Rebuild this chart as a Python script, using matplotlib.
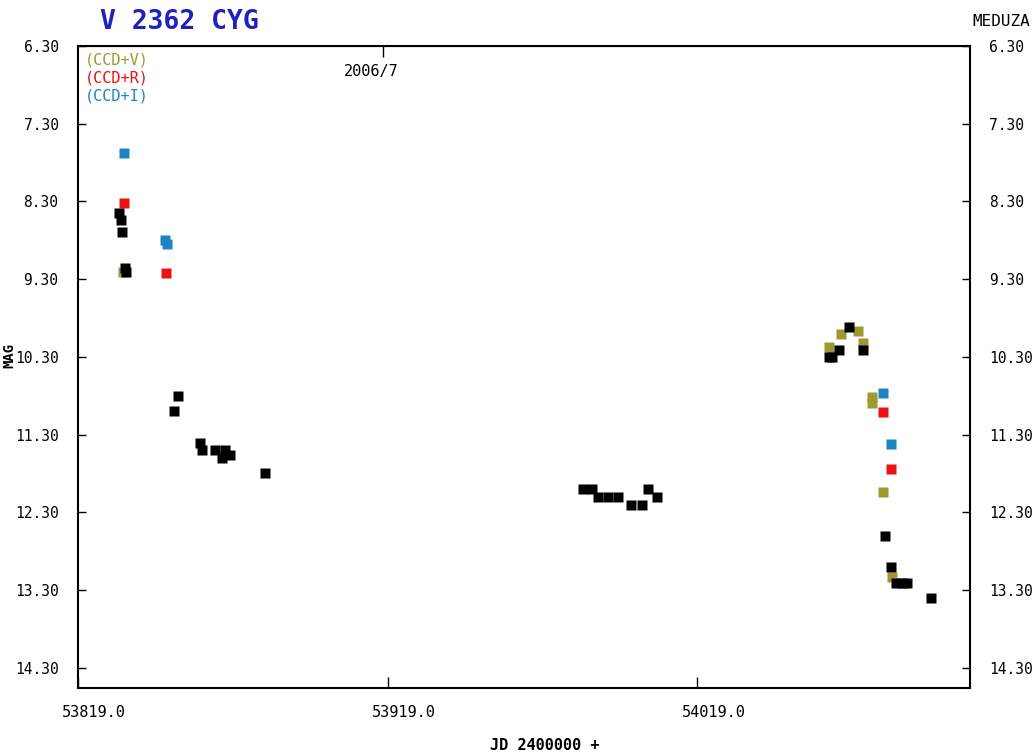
import matplotlib
matplotlib.use('Agg')
import matplotlib.pyplot as plt
import matplotlib.transforms as mtransforms

# visual (black) estimates
vis_jd = [53832.2, 53833.0, 53833.2, 53834.5, 53834.3,
          53850.0, 53851.3, 53858.4, 53859.1, 53863.3, 53866.5, 53865.5, 53868.1, 53879.4,
          53982.2, 53985.0, 53987.0, 53990.0, 53993.5, 53997.4, 54001.0, 54003.0, 54006.0,
          54061.6, 54062.6, 54064.6, 54067.8, 54072.6, 54079.7, 54081.4, 54083.0, 54085.2, 54086.8, 54094.3]
vis_mag = [8.45, 8.54, 8.69, 9.21, 9.15,
           10.99, 10.80, 11.41, 11.50, 11.50, 11.50, 11.60, 11.56, 11.79,
           12.00, 12.00, 12.10, 12.10, 12.10, 12.20, 12.20, 12.00, 12.10,
           10.30, 10.30, 10.21, 9.91, 10.21, 12.60, 13.00, 13.21, 13.21, 13.21, 13.40]

ccd_v_jd = [53833.5, 54061.6, 54065.5, 54070.7, 54072.6, 54075.5, 54075.5, 54078.8, 54081.7]
ccd_v_mag = [9.21, 10.17, 10.00, 9.97, 10.12, 10.81, 10.89, 12.04, 13.13]

ccd_r_jd = [53833.9, 53847.4, 54078.8, 54081.4]
ccd_r_mag = [8.32, 9.22, 11.01, 11.74]

ccd_i_jd = [53833.9, 53847.1, 53847.8, 54078.8, 54081.4]
ccd_i_mag = [7.68, 8.80, 8.85, 10.76, 11.42]

y_ticks = [6.3, 7.3, 8.3, 9.3, 10.3, 11.3, 12.3, 13.3, 14.3]
x_ticks = [53819, 53919, 54019]

col_v = '#9c9a32'
col_r = '#ee1111'
col_i = '#1a86c4'

mono = 'DejaVu Sans Mono'
plt.rcParams['font.family'] = mono

fig = plt.figure(figsize=(10.35, 7.53), dpi=100)
ax = fig.add_axes([78/1035, 1 - 688/753, (970 - 78)/1035, (688 - 46)/753])

ms = 7.2
ax.plot(ccd_v_jd, ccd_v_mag, 's', color=col_v, ms=ms, mec='none')
ax.plot(ccd_r_jd, ccd_r_mag, 's', color=col_r, ms=ms, mec='none')
ax.plot(ccd_i_jd, ccd_i_mag, 's', color=col_i, ms=ms, mec='none')
ax.plot(vis_jd, vis_mag, 's', color='black', ms=ms, mec='none')

ax.set_xlim(53819, 54107)
ax.set_ylim(14.56, 6.3)

ax.set_yticks(y_ticks)
ax.set_yticklabels(['%.2f' % v for v in y_ticks])
ax.set_xticks(x_ticks)
ax.set_xticklabels(['%.1f' % v for v in x_ticks])
ax.tick_params(axis='y', direction='in', length=6, width=1, labelsize=10.5,
               left=True, right=True, labelleft=True, labelright=True, pad=14)
ax.tick_params(axis='x', direction='in', length=8, width=1, labelsize=11, pad=12)
off = mtransforms.ScaledTranslation(16/100, 0, fig.dpi_scale_trans)
for lab in ax.get_xticklabels():
    lab.set_transform(lab.get_transform() + off)
for sp in ax.spines.values():
    sp.set_linewidth(1.5)

sec = ax.secondary_xaxis('top')
sec.set_xticks([53917.5])
sec.set_xticklabels(['2006/7'])
sec.tick_params(direction='in', length=8, width=1, labelsize=11, pad=-24)
for lab in sec.get_xticklabels():
    lab.set_transform(lab.get_transform() + mtransforms.ScaledTranslation(-12/100, 0, fig.dpi_scale_trans))

# legend text
ax.text(0.008, 0.99, '(CCD+V)', color=col_v, fontsize=11, transform=ax.transAxes, va='top')
ax.text(0.008, 0.962, '(CCD+R)', color=col_r, fontsize=11, transform=ax.transAxes, va='top')
ax.text(0.008, 0.934, '(CCD+I)', color=col_i, fontsize=11, transform=ax.transAxes, va='top')

fig.text(100/1035, 1 - 22/753, 'V 2362 CYG', color='#2020c0', fontsize=19,
         fontweight='bold', va='center', ha='left')
fig.text(1030/1035, 1 - 22/753, 'MEDUZA', color='black', fontsize=11.5,
         va='center', ha='right')
fig.text(9/1035, 1 - 355/753, 'MAG', rotation=90, fontsize=10, fontweight='bold',
         va='center', ha='center')
fig.text(545/1035, 1 - 745/753, 'JD 2400000 +', fontsize=11, fontweight='bold',
         va='center', ha='center')

fig.savefig('out.png', dpi=100)
